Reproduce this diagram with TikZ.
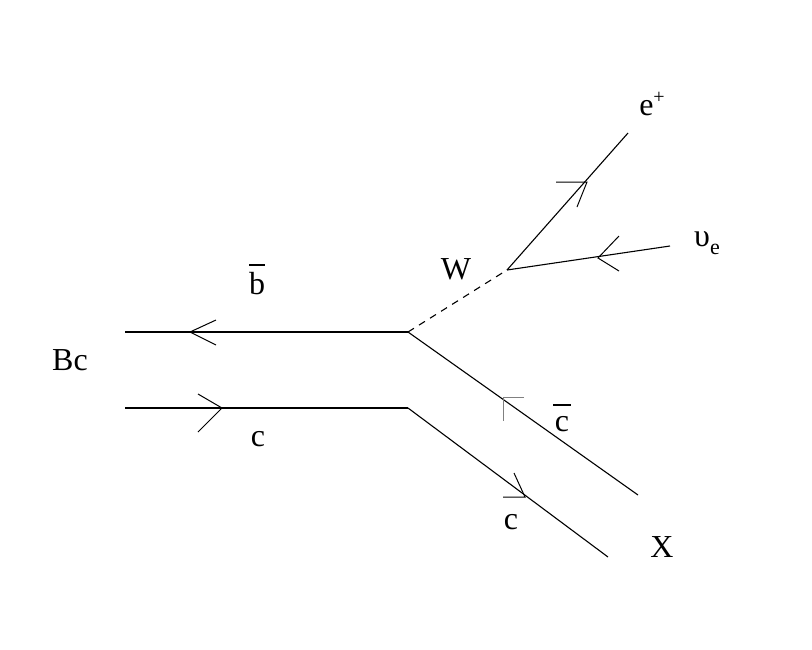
\documentclass[tikz,border=0pt]{standalone}
\usepackage{fontspec}
\setmainfont{Liberation Serif}
\begin{document}
\begin{tikzpicture}[x=1pt,y=-1pt,line width=1.1pt,
  lbl/.style={font=\fontsize{32}{34}\selectfont,inner sep=0pt},
  arm/.style={line width=1pt}]
\useasboundingbox (0,0) rectangle (812,649);
\coordinate (b0) at (125,332);
\coordinate (v1) at (408,332);
\coordinate (c0) at (125,408);
\coordinate (v2) at (408,408);
\coordinate (x1) at (638,495);
\coordinate (x2) at (608,557);
\coordinate (w) at (507,270);
\coordinate (ep) at (628,133);
\coordinate (nu) at (670,246);
\draw (b0) -- (v1);
\draw (c0) -- (v2);
\draw (v1) -- (x1);
\draw (v2) -- (x2);
\draw[dashed,dash pattern=on 7pt off 6pt] (v1) -- (w);
\draw (w) -- (ep);
\draw (nu) -- (w);
% arrowheads
\draw[arm] (216,320) -- (190,332) -- (216,345);
\draw[arm] (198,394) -- (222,408) -- (198,432);
\draw[arm] (556,182) -- (587,182) -- (577,207);
\draw[arm] (619,236) -- (598,258) -- (619,271);
\draw[arm,gray] (524,397) -- (503,397) -- (503,421);
\draw[arm] (514,473) -- (525,497) -- (503,497);
% labels
\node[lbl] (lb) at (257,284) {b};
\draw[line width=1.6pt] (249,265) -- (265,265);
\node[lbl] (lbc) at (70,360) {Bc};
\node[lbl] (lc) at (258,439) {c};
\node[lbl] (lw) at (456,269) {W};
\node[lbl] (le) at (652,104) {e\raisebox{0.35em}{\fontsize{20}{20}\selectfont +}};
\node[lbl] (lnu) at (707,243) {υ\raisebox{-0.25em}{\fontsize{22}{22}\selectfont e}};
\node[lbl] (lcb) at (562,424) {c};
\draw[line width=1.6pt] (553,405) -- (571,405);
\node[lbl] (lc2) at (511,522) {c};
\node[lbl] (lx) at (662,547) {X};
\end{tikzpicture}
\end{document}
